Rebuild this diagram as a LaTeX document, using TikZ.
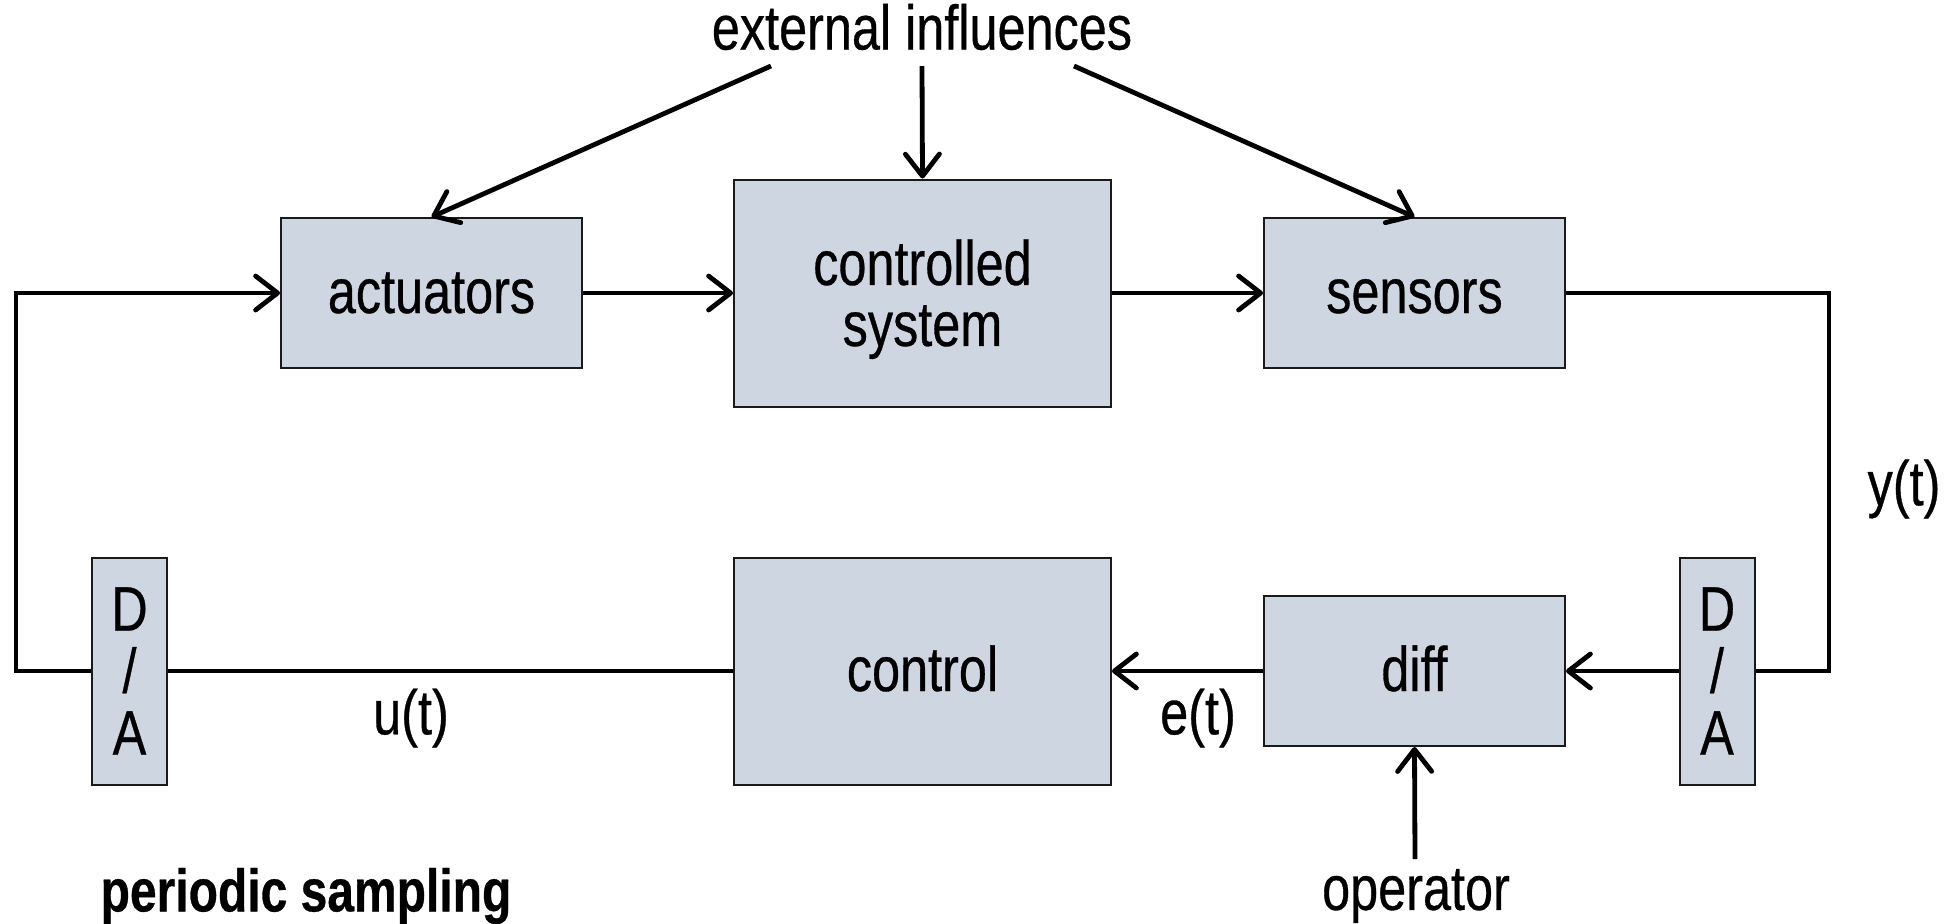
\documentclass[tikz,border=0pt]{standalone}
\usepackage{fontspec}
\setmainfont{Liberation Sans}[FakeStretch=0.8, FakeBold=0.5]
\usetikzlibrary{arrows.meta,positioning}
\definecolor{blockFill}{HTML}{CED6E2}
\definecolor{blockInk}{HTML}{1A1A1A}
\tikzset{
  every node/.style={font=\fontsize{31.5}{40}\selectfont, text=black, inner sep=0pt},
  block/.style={
    draw=blockInk,
    line width=1pt,
    fill=blockFill,
    align=center
  },
  oneline/.style={text height=23pt, text depth=3pt},
  unit/.style={block, oneline, minimum width=150.5pt, minimum height=75pt},
  plantbox/.style={block, minimum width=188.5pt, minimum height=113.5pt,
    font=\fontsize{31.5}{30.5}\selectfont},
  converter/.style={
    block,
    minimum width=37.5pt,
    minimum height=113.5pt,
    font=\fontsize{31.5}{31}\selectfont
  },
  wire/.style={line width=2.4pt},
  link/.style={
    wire,
    -{Straight Barb[length=11pt,width=17pt,round]}
  }
}

\begin{document}
\begin{tikzpicture}[x=0.5pt,y=-0.5pt]
  \useasboundingbox (0,0) rectangle (1951,923);

  % forward path
  \node[unit] (act) at (431.5,293) {actuators};
  \node[plantbox] (plant) at (922.5,293) {\rule{0pt}{29pt}controlled\\system};
  \node[unit] (sens) at (1414.5,293) {sensors};

  % feedback path
  \node[plantbox, oneline] (ctrl) at (922.5,671) {control};
  \node[unit] (diff) at (1414.5,671) {diff};
  \node[converter] (dal) at (129.5,671) {D\\/\\A};
  \node[converter] (dar) at (1717,671) {D\\/\\A};

  % labels
  \node (ext) at (922,27) {external influences};
  \node (yt) at (1904,489) {y(t)};
  \node (ut) at (411,718) {u(t)};
  \node (et) at (1198,718) {e(t)};
  \node (op) at (1416,896) {operator};
  \node[font=\fontsize{30}{40}\selectfont\bfseries] (samp) at (306,896) {periodic sampling};

  \coordinate (extL) at (771,66);
  \coordinate (extM) at (922,66);
  \coordinate (extR) at (1074,66);
  \coordinate (opUp) at (1415,859);
  \coordinate (cornerR) at (1829,293);
  \coordinate (cornerL) at (16,293);

  \draw[link] (extL) -- (act.north);
  \draw[link] (extM) -- (plant.north);
  \draw[link] (extR) -- (sens.north);

  \draw[link] (act) -- (plant);
  \draw[link] (plant) -- (sens);

  \draw[wire] (sens.east) -- (cornerR) |- (dar.east);
  \draw[link] (dar.west) -- (diff.east);
  \draw[link] (diff.west) -- (ctrl.east);
  \draw[link] (opUp) -- (diff.south);
  \draw[wire] (ctrl.west) -- (dal.east);
  \draw[link] (dal.west) -| (cornerL) -- (act.west);
\end{tikzpicture}
\end{document}
